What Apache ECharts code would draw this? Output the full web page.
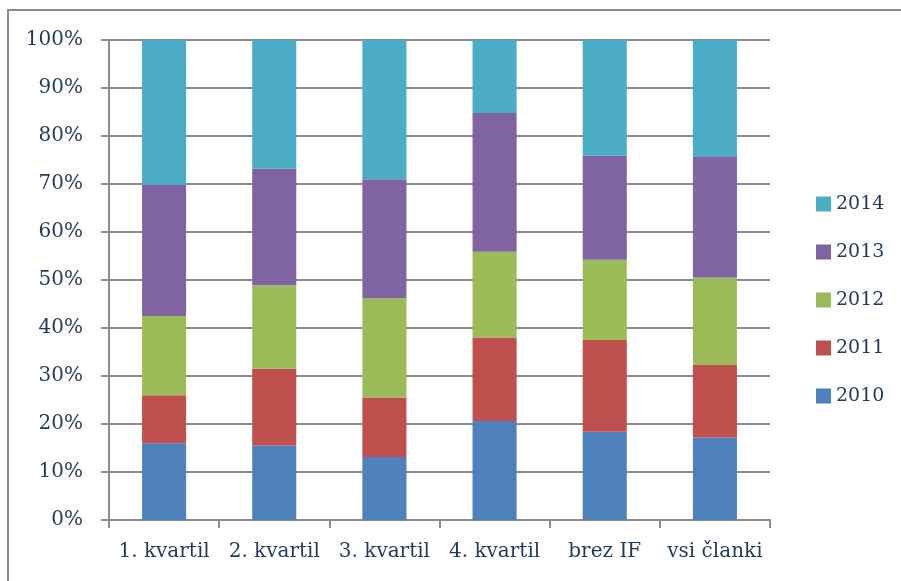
<!DOCTYPE html>
<html>
<head>
<meta charset="utf-8">
<script src="https://cdn.jsdelivr.net/npm/echarts@6/dist/echarts.min.js"></script>
<style>
  html, body { margin: 0; padding: 0; background: #fff; }
  #chart { width: 901px; height: 581px; }
</style>
</head>
<body>
<div id="chart"></div>
<script>
// Share of articles by publication year within each group (percent, stacked to 100)
const categories = ['1. kvartil', '2. kvartil', '3. kvartil', '4. kvartil', 'brez IF', 'vsi članki'];
const years = ['2010', '2011', '2012', '2013', '2014'];
const y2010 = [16.0, 15.5, 13.1, 20.6, 18.4, 17.2];
const y2011 = [10.0, 16.0, 12.4, 17.4, 19.1, 15.1];
const y2012 = [16.5, 17.4, 20.7, 17.9, 16.7, 18.2];
const y2013 = [27.3, 24.3, 24.8, 28.9, 21.7, 25.3];
const y2014 = [30.2, 26.8, 29.0, 15.2, 24.1, 24.2];
const yTicks = [0, 10, 20, 30, 40, 50, 60, 70, 80, 90, 100];

const seriesValues = [y2010, y2011, y2012, y2013, y2014];
const colors = ['#4F81BD', '#C0504D', '#9BBB59', '#8064A2', '#4BACC6'];
const textColor = '#1F3A5C';
const fontFamily = '"DejaVu Serif", "Liberation Serif", serif';
const gridColor = '#8c8c8c';

const chart = echarts.init(document.getElementById('chart'), null, { renderer: 'canvas' });

chart.setOption({
  animation: false,
  backgroundColor: '#ffffff',
  color: colors,
  textStyle: { fontFamily: fontFamily, color: textColor },
  graphic: [{
    type: 'rect',
    shape: { x: 8, y: 10, width: 920, height: 600 },
    style: { fill: 'none', stroke: '#8a8a8a', lineWidth: 2 },
    silent: true,
    z: -1
  }],
  grid: { left: 109, right: 131, top: 40, bottom: 61, containLabel: false },
  legend: {
    orient: 'vertical',
    left: 811,
    top: 189,
    icon: 'rect',
    itemWidth: 15,
    itemHeight: 15,
    itemGap: 28,
    data: years.slice().reverse(),
    textStyle: { fontFamily: fontFamily, fontSize: 19, color: textColor, lineHeight: 20 }
  },
  xAxis: {
    type: 'category',
    data: categories,
    axisLine: { show: true, lineStyle: { color: gridColor, width: 2 } },
    axisTick: { show: true, length: 8, lineStyle: { color: gridColor, width: 2 } },
    axisLabel: { fontFamily: fontFamily, fontSize: 20, color: textColor, margin: 22, interval: 0 },
    splitLine: { show: false }
  },
  yAxis: {
    type: 'value',
    min: yTicks[0],
    max: yTicks[yTicks.length - 1],
    interval: yTicks[1] - yTicks[0],
    axisLine: { show: true, lineStyle: { color: gridColor, width: 2 } },
    axisTick: { show: true, length: 8, lineStyle: { color: gridColor, width: 2 } },
    axisLabel: { fontFamily: fontFamily, fontSize: 20, color: textColor, margin: 26, formatter: '{value}%' },
    splitLine: { show: true, lineStyle: { color: gridColor, width: 2 } }
  },
  series: years.map((name, i) => ({
    name: name,
    type: 'bar',
    stack: 'total',
    barWidth: '40%',
    data: seriesValues[i],
    itemStyle: { color: colors[i] }
  }))
});
</script>
</body>
</html>
